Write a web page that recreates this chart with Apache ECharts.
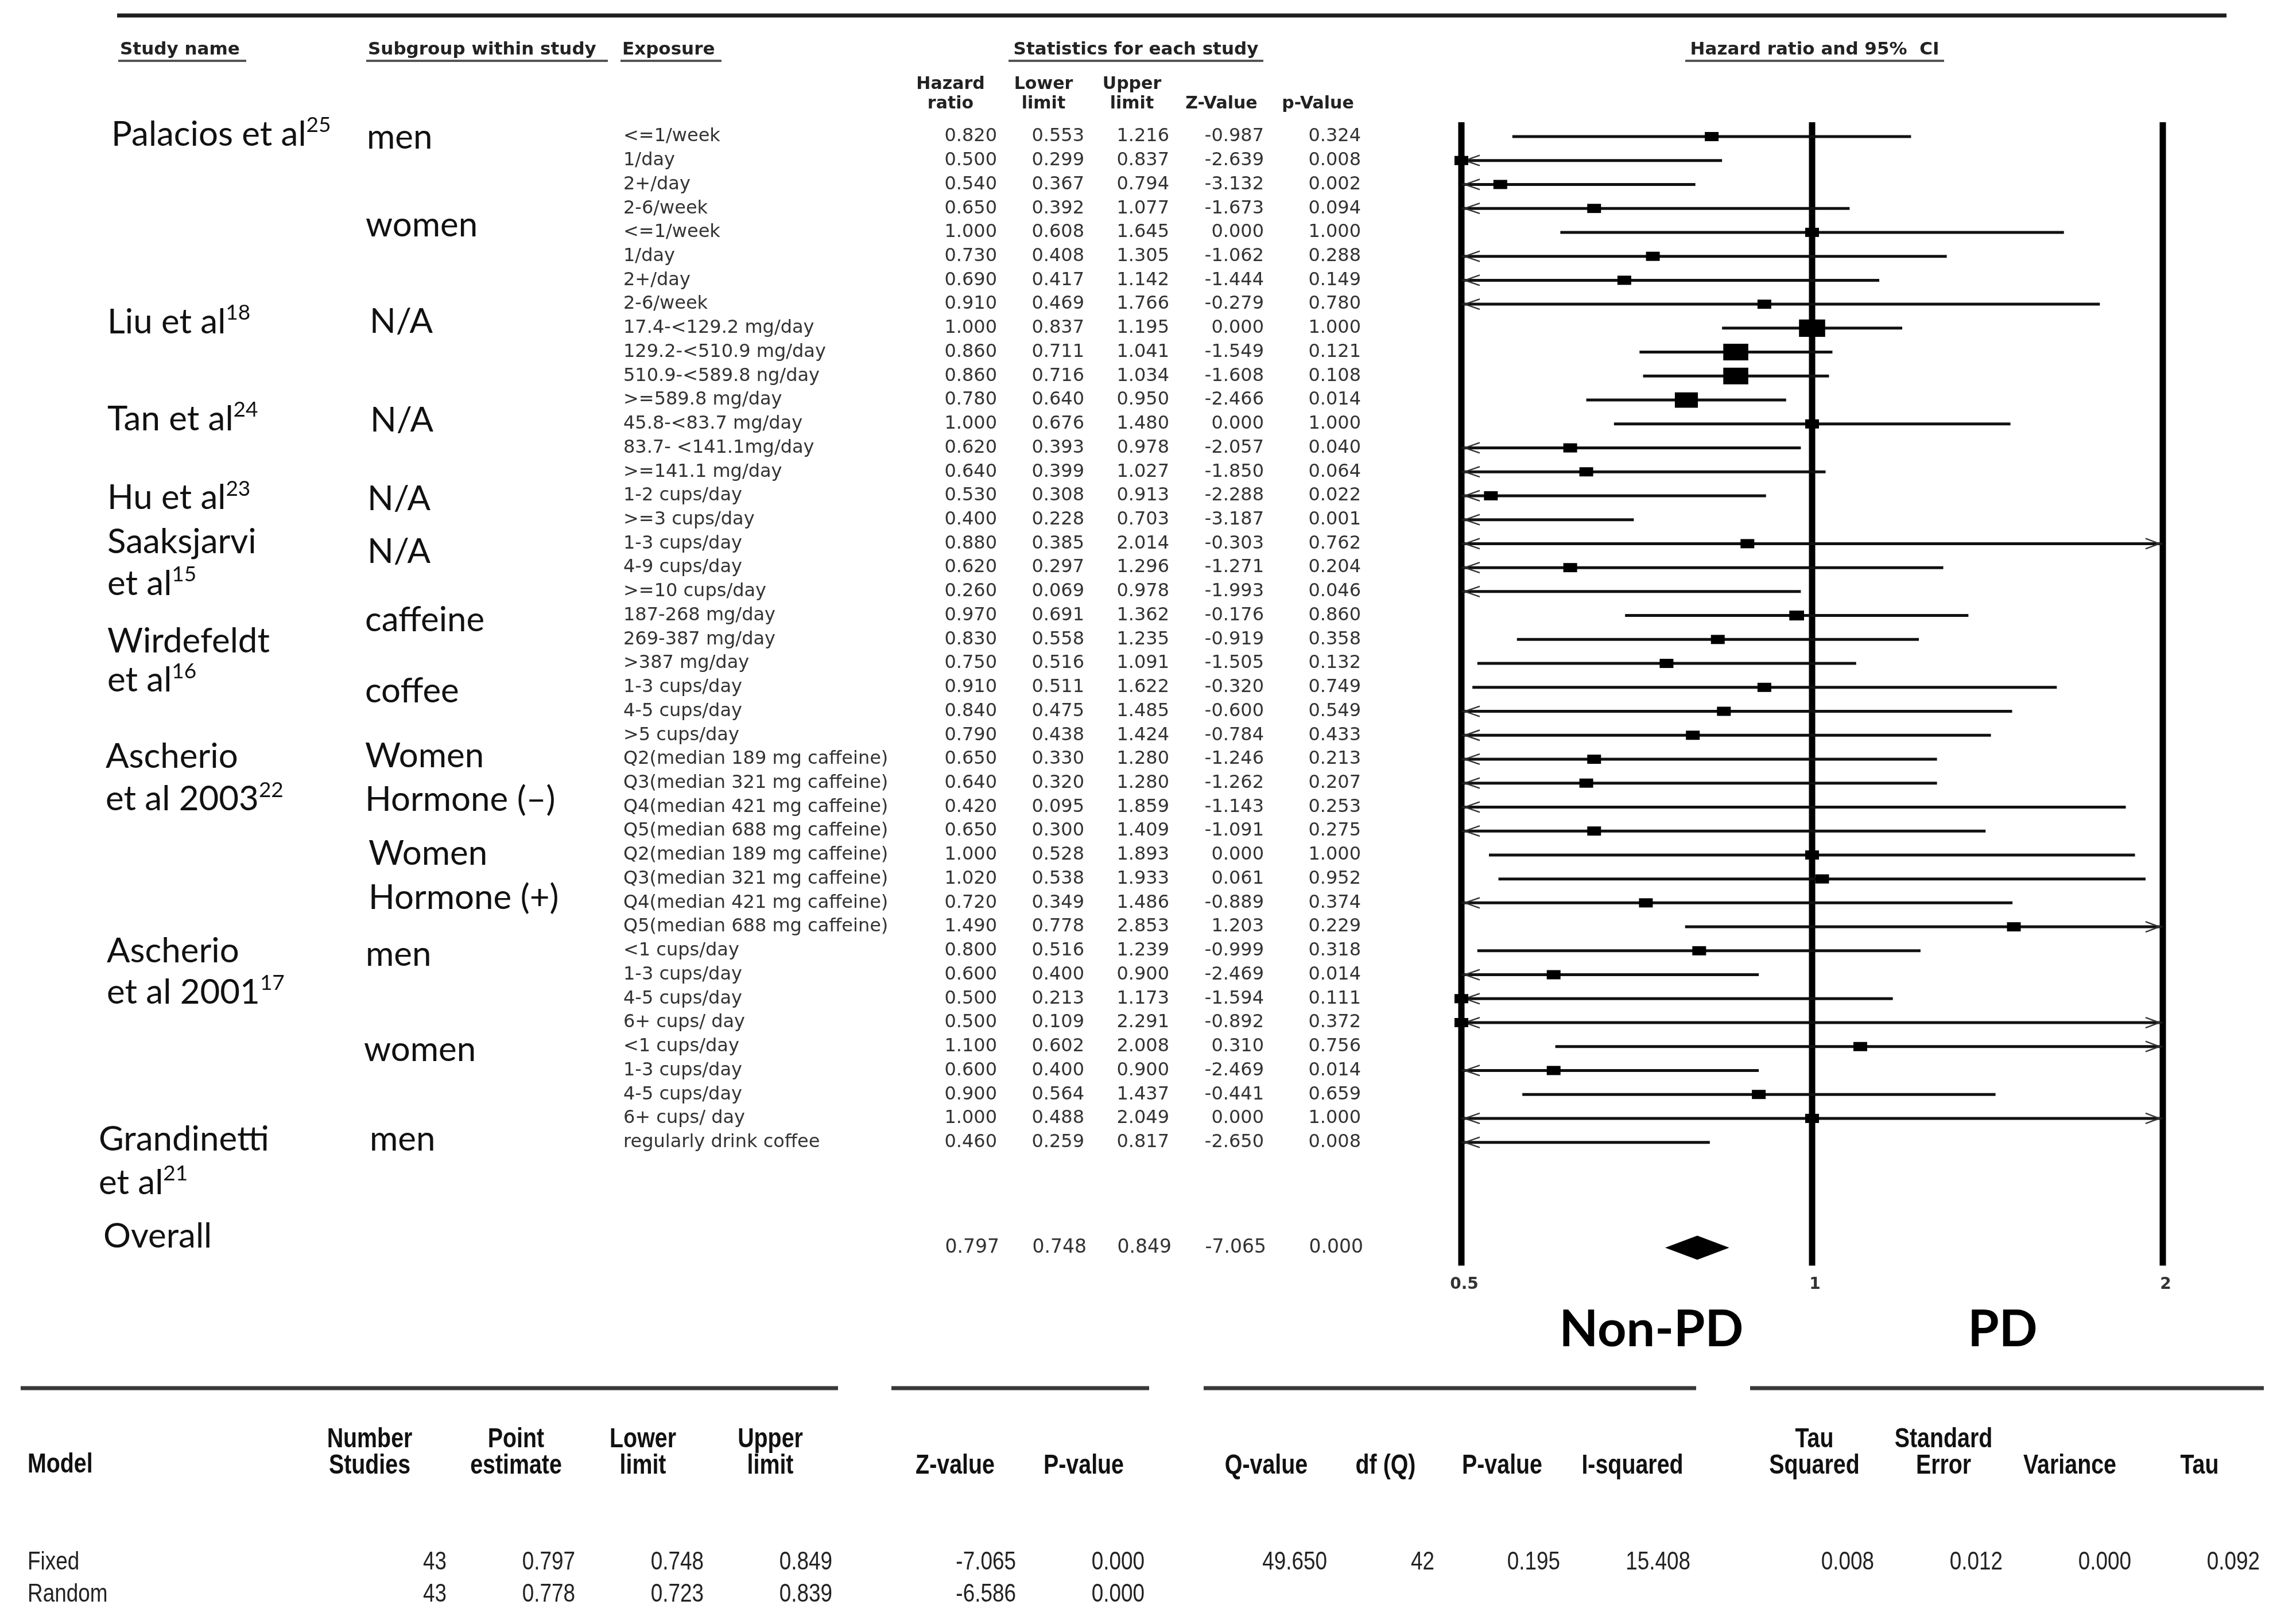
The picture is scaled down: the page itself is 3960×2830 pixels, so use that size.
<!DOCTYPE html>
<html><head><meta charset="utf-8">
<script src="https://cdn.jsdelivr.net/npm/echarts@6/dist/echarts.min.js"></script>
<style>html,body{margin:0;padding:0;background:#fff}#c{width:3960px;height:2830px}</style>
</head><body><div id="c"></div>
<script>
// ---------------- DATA ----------------
const exposures = ['<=1/week','1/day','2+/day','2-6/week','<=1/week','1/day','2+/day','2-6/week',
  '17.4-<129.2 mg/day','129.2-<510.9 mg/day','510.9-<589.8 ng/day','>=589.8 mg/day',
  '45.8-<83.7 mg/day','83.7- <141.1mg/day','>=141.1 mg/day',
  '1-2 cups/day','>=3 cups/day',
  '1-3 cups/day','4-9 cups/day','>=10 cups/day',
  '187-268 mg/day','269-387 mg/day','>387 mg/day','1-3 cups/day','4-5 cups/day','>5 cups/day',
  'Q2(median 189 mg caffeine)','Q3(median 321 mg caffeine)','Q4(median 421 mg caffeine)','Q5(median 688 mg caffeine)',
  'Q2(median 189 mg caffeine)','Q3(median 321 mg caffeine)','Q4(median 421 mg caffeine)','Q5(median 688 mg caffeine)',
  '<1 cups/day','1-3 cups/day','4-5 cups/day','6+ cups/ day','<1 cups/day','1-3 cups/day','4-5 cups/day','6+ cups/ day',
  'regularly drink coffee'];
const hazardRatio = [0.820,0.500,0.540,0.650,1.000,0.730,0.690,0.910,1.000,0.860,0.860,0.780,1.000,0.620,0.640,0.530,0.400,0.880,0.620,0.260,0.970,0.830,0.750,0.910,0.840,0.790,0.650,0.640,0.420,0.650,1.000,1.020,0.720,1.490,0.800,0.600,0.500,0.500,1.100,0.600,0.900,1.000,0.460];
const lowerLimit = [0.553,0.299,0.367,0.392,0.608,0.408,0.417,0.469,0.837,0.711,0.716,0.640,0.676,0.393,0.399,0.308,0.228,0.385,0.297,0.069,0.691,0.558,0.516,0.511,0.475,0.438,0.330,0.320,0.095,0.300,0.528,0.538,0.349,0.778,0.516,0.400,0.213,0.109,0.602,0.400,0.564,0.488,0.259];
const upperLimit = [1.216,0.837,0.794,1.077,1.645,1.305,1.142,1.766,1.195,1.041,1.034,0.950,1.480,0.978,1.027,0.913,0.703,2.014,1.296,0.978,1.362,1.235,1.091,1.622,1.485,1.424,1.280,1.280,1.859,1.409,1.893,1.933,1.486,2.853,1.239,0.900,1.173,2.291,2.008,0.900,1.437,2.049,0.817];
const zValue = [-0.987,-2.639,-3.132,-1.673,0.000,-1.062,-1.444,-0.279,0.000,-1.549,-1.608,-2.466,0.000,-2.057,-1.850,-2.288,-3.187,-0.303,-1.271,-1.993,-0.176,-0.919,-1.505,-0.320,-0.600,-0.784,-1.246,-1.262,-1.143,-1.091,0.000,0.061,-0.889,1.203,-0.999,-2.469,-1.594,-0.892,0.310,-2.469,-0.441,0.000,-2.650];
const pValue = [0.324,0.008,0.002,0.094,1.000,0.288,0.149,0.780,1.000,0.121,0.108,0.014,1.000,0.040,0.064,0.022,0.001,0.762,0.204,0.046,0.860,0.358,0.132,0.749,0.549,0.433,0.213,0.207,0.253,0.275,1.000,0.952,0.374,0.229,0.318,0.014,0.111,0.372,0.756,0.014,0.659,1.000,0.008];
// relative box weight (box area)
const boxWeight = [1,1,1,1,1,1,1,1,3.6,3.3,3.3,2.8,1,1,1,1,1,1,1,1,1.15,1,1,1,1,1,1,1,1,1,1,1,1,1,1,1,1,1,1,1,1,1,1];
const overallStats = [0.797,0.748,0.849,-7.065,0.000];
const axisTicks = [0.5, 1, 2];

const studyNames = ['Palacios et al','Liu et al','Tan et al','Hu et al','Saaksjarvi','et al','Wirdefeldt','et al','Ascherio','et al 2003','Ascherio','et al 2001','Grandinetti','et al','Overall'];
const studyRefs  = ['25','18','24','23','','15','','16','','22','','17','','21',''];
const subgroupNames = ['men','women','N/A','N/A','N/A','N/A','caffeine','coffee','Women','Hormone (\u2013)','Women','Hormone (+)','men','women','men'];

const modelNames = ['Fixed','Random'];
const modelStudies = [43,43];
const modelPoint = [0.797,0.778];
const modelLower = [0.748,0.723];
const modelUpper = [0.849,0.839];
const modelZ = [-7.065,-6.586];
const modelP = [0.000,0.000];
const hetQ = [49.650], hetDf = [42], hetP = [0.195], hetI2 = [15.408];
const tauSquared = [0.008], tauSE = [0.012], tauVariance = [0.000], tauValue = [0.092];

// ---------------- LAYOUT ----------------
const ROW0 = 238, ROWH = 41.73;
const PLOT_L = 2546, PLOT_R = 3768;
const OVERALL_ROW = 46.4;
const studyLabelRow = [-0.08,7.76,11.81,15.1,16.94,18.69,21.09,22.72,25.9,27.68,34.03,35.75,41.89,43.71,45.94];
const studyLabelX   = [194,187,187,187,187,187,187,187,184,184,186,186,172,172,180];
const subgroupRow = [0.05,3.71,7.74,11.86,15.14,17.35,20.2,23.17,25.88,27.7,29.95,31.78,34.17,38.13,41.89];
const subgroupX   = [639,637,644,645,640,640,636,636,636,636,642,642,637,634,644];
const EXPO_X = 1086;
const COL_RIGHT = [1737,1889,2037,2202,2371];
const NUM_FONT = 'DejaVu Sans';
const NAME_FONT = 'Lato';
const ARIAL = "'Liberation Sans',Arial,sans-serif";

const fmt3 = v => v.toFixed(3);

function txt(x, y, text, o, sx) {
  const el = {type:'text', x:x, y:y, silent:true,
    style: Object.assign({text:text, fill:'#1a1a1a', fontSize:32, fontFamily:NUM_FONT, align:'left', verticalAlign:'middle'}, o||{})};
  if (sx) el.scaleX = sx;
  return el;
}
function hline(x1, x2, y, w, c) {
  return {type:'line', silent:true, shape:{x1:x1,y1:y,x2:x2,y2:y}, style:{stroke:c||'#222', lineWidth:w}};
}

function renderRef(params, api) {
  const v = axisTicks[params.dataIndex];
  const x = api.coord([v, 0])[0];
  const y1 = api.coord([v, -0.6])[1];
  const y2 = api.coord([v, 47.15])[1];
  const yl = api.coord([v, 47.95])[1];
  return {type:'group', children:[
    {type:'line', shape:{x1:x, y1:y1, x2:x, y2:y2}, style:{stroke:'#000', lineWidth:11}},
    {type:'text', x:x+5, y:yl, style:{text:String(v), fill:'#333', fontSize:28, fontWeight:'bold', fontFamily:NUM_FONT, align:'center', verticalAlign:'middle'}}
  ]};
}

function renderForest(params, api) {
  const i = params.dataIndex;
  const y = api.coord([1, i])[1];
  const hr = hazardRatio[i], lo = lowerLimit[i], up = upperLimit[i];
  const xmin = axisTicks[0], xmax = axisTicks[axisTicks.length - 1];
  const xl = api.coord([Math.max(lo, xmin), i])[0];
  const xu = api.coord([Math.min(up, xmax), i])[0];
  const ch = [{type:'line', shape:{x1:xl, y1:y, x2:xu, y2:y}, style:{stroke:'#111', lineWidth:5}}];
  if (lo < xmin) ch.push({type:'polyline', shape:{points:[[xl+32,y-9],[xl+6,y],[xl+32,y+9]]}, style:{stroke:'#333', lineWidth:2.4, fill:'none'}});
  if (up > xmax) ch.push({type:'polyline', shape:{points:[[xu-30,y-9],[xu-6,y],[xu-30,y+9]]}, style:{stroke:'#333', lineWidth:2.4, fill:'none'}});
  if (hr >= xmin && hr <= xmax) {
    const xc = api.coord([hr, i])[0];
    const s = Math.sqrt(boxWeight[i]);
    const w = 24*s, h = 16*s;
    ch.push({type:'rect', shape:{x:xc-w/2, y:y-h/2, width:w, height:h}, style:{fill:'#000'}});
  }
  return {type:'group', children:ch};
}

function renderDiamond(params, api) {
  const y = api.coord([1, OVERALL_ROW])[1];
  const xc = api.coord([overallStats[0], OVERALL_ROW])[0];
  const xl = api.coord([overallStats[1], OVERALL_ROW])[0];
  const xu = api.coord([overallStats[2], OVERALL_ROW])[0];
  return {type:'polygon', shape:{points:[[xl,y],[xc,y-21],[xu,y],[xc,y+21]]}, style:{fill:'#000'}};
}

function renderTableRow(params, api) {
  const i = params.dataIndex;
  const y = api.coord([1, i])[1];
  const vals = [fmt3(hazardRatio[i]), fmt3(lowerLimit[i]), fmt3(upperLimit[i]), fmt3(zValue[i]), fmt3(pValue[i])];
  const ch = [txt(EXPO_X, y, exposures[i], {fill:'#333'})];
  vals.forEach((v, k) => ch.push(txt(COL_RIGHT[k], y, v, {align:'right', fill:'#333'})));
  return {type:'group', children:ch};
}

function renderOverallRow(params, api) {
  const y = api.coord([1, OVERALL_ROW])[1];
  const ch = [];
  overallStats.forEach((v, k) => ch.push(txt(COL_RIGHT[k] + 4, y, fmt3(v), {align:'right', fill:'#333', fontSize:33})));
  return {type:'group', children:ch};
}

const nameRich = {
  n: {fontSize:60, fontFamily:NAME_FONT, fill:'#111', lineHeight:70},
  s: {fontSize:37, fontFamily:NAME_FONT, fill:'#111', lineHeight:38, verticalAlign:'top'}
};
function renderStudy(params, api) {
  const i = params.dataIndex;
  const y = api.coord([1, studyLabelRow[i]])[1];
  const t = '{n|' + studyNames[i] + '}' + (studyRefs[i] ? '{s|' + studyRefs[i] + '}' : '');
  return {type:'text', x:studyLabelX[i], y:y, style:{text:t, rich:nameRich, fontSize:60, fontFamily:NAME_FONT, fill:'#111', align:'left', verticalAlign:'middle'}};
}
function renderSubgroup(params, api) {
  const i = params.dataIndex;
  const y = api.coord([1, subgroupRow[i]])[1];
  return {type:'text', x:subgroupX[i], y:y, style:{text:subgroupNames[i], fontSize:60, fontFamily:NAME_FONT, fill:'#111', align:'left', verticalAlign:'middle'}};
}

// ---------------- GRAPHIC (headers & summary table) ----------------
const g = [];
g.push(hline(204, 3879, 27, 7, '#1e1e1e'));
const HB = {fontSize:31, fontWeight:'bold', fontFamily:NUM_FONT, fill:'#222'};
const headTop = [
  ['Study name', 209, 429], ['Subgroup within study', 641, 1059], ['Exposure', 1084, 1257],
  ['Statistics for each study', 1774, 2201, 1757], ['Hazard ratio and 95%  CI', 2940, 3387, 2936]
];
headTop.forEach(h => {
  const ul = h[3] !== undefined ? h[3] : h[1] - 3;
  if (h[3] !== undefined) g.push(txt((ul + h[2]) / 2, 87, h[0], Object.assign({}, HB, {align:'center'})));
  else g.push(txt(h[1], 87, h[0], HB));
  g.push(hline(ul, h[2], 106, 4, '#555'));
});
const colHeads = [[['Hazard','ratio'],1656],[['Lower','limit'],1818],[['Upper','limit'],1972],[['Z-Value'],2128],[['p-Value'],2296]];
colHeads.forEach(c => {
  const lines = c[0];
  lines.forEach((l, k) => {
    const y = lines.length === 2 ? (k === 0 ? 147 : 181) : 181;
    g.push(txt(c[1], y, l, Object.assign({}, HB, {fontSize:30, align:'center'})));
  });
});
// Non-PD / PD
g.push(txt(2877, 2318, 'Non-PD', {fontSize:88, fontWeight:'bold', fontFamily:NAME_FONT, fill:'#000', align:'center'}));
g.push(txt(3489, 2318, 'PD', {fontSize:88, fontWeight:'bold', fontFamily:NAME_FONT, fill:'#000', align:'center'}));

// bottom summary table
[[36,1460],[1553,2002],[2097,2955],[3049,3944]].forEach(s => g.push(hline(s[0], s[1], 2419, 7, '#383838')));
const NSX = 0.82; // narrow (condensed) rendering of Arial-like face
const BH = {fontSize:48, fontWeight:'bold', fontFamily:ARIAL, fill:'#111'};
const BV = {fontSize:45, fontFamily:ARIAL, fill:'#222'};
g.push(txt(48, 2553, 'Model', BH, NSX));
const bottomCols = [
  {head:['Number','Studies'], cx:644, right:778, vals:modelStudies, f:v=>String(v)},
  {head:['Point','estimate'], cx:899, right:1002, vals:modelPoint, f:fmt3},
  {head:['Lower','limit'], cx:1120, right:1226, vals:modelLower, f:fmt3},
  {head:['Upper','limit'], cx:1342, right:1450, vals:modelUpper, f:fmt3},
  {head:['Z-value'], cx:1664, right:1770, vals:modelZ, f:fmt3},
  {head:['P-value'], cx:1888, right:1994, vals:modelP, f:fmt3},
  {head:['Q-value'], cx:2206, right:2312, vals:hetQ, f:fmt3},
  {head:['df (Q)'], cx:2414, right:2499, vals:hetDf, f:v=>String(v)},
  {head:['P-value'], cx:2617, right:2718, vals:hetP, f:fmt3},
  {head:['I-squared'], cx:2844, right:2945, vals:hetI2, f:fmt3},
  {head:['Tau','Squared'], cx:3161, right:3265, vals:tauSquared, f:fmt3},
  {head:['Standard','Error'], cx:3386, right:3489, vals:tauSE, f:fmt3},
  {head:['Variance'], cx:3606, right:3713, vals:tauVariance, f:fmt3},
  {head:['Tau'], cx:3832, right:3937, vals:tauValue, f:fmt3}
];
const ROWY = [2723, 2779];
bottomCols.forEach(c => {
  c.head.forEach((h, k) => {
    const y = c.head.length === 2 ? (k === 0 ? 2509 : 2555) : 2555;
    g.push(txt(c.cx, y, h, Object.assign({}, BH, {align:'center'}), NSX));
  });
  c.vals.forEach((v, r) => g.push(txt(c.right, ROWY[r], c.f(v), Object.assign({}, BV, {align:'right'}), NSX)));
});
modelNames.forEach((m, r) => g.push(txt(48, ROWY[r], m, BV, NSX)));

// ---------------- CHART ----------------
const chart = echarts.init(document.getElementById('c'), null, {width:3960, height:2830, renderer:'canvas'});
chart.setOption({
  backgroundColor:'#ffffff',
  animation:false,
  grid:[{left:PLOT_L, width:PLOT_R-PLOT_L, top:ROW0-ROWH, height:49*ROWH, show:false}],
  xAxis:[{type:'log', logBase:2, min:axisTicks[0], max:axisTicks[axisTicks.length-1], show:false}],
  yAxis:[{type:'value', inverse:true, min:-1, max:48, show:false}],
  series:[
    {type:'custom', name:'reference lines', data:axisTicks.map(v=>[v,0]), encode:{x:0,y:1}, renderItem:renderRef, clip:false, z:1, silent:true},
    {type:'custom', name:'studies', data:hazardRatio.map((v,i)=>[v,i]), encode:{x:0,y:1}, renderItem:renderForest, clip:false, z:2, silent:true},
    {type:'custom', name:'overall', data:[[overallStats[0], OVERALL_ROW]], encode:{x:0,y:1}, renderItem:renderDiamond, clip:false, z:2, silent:true},
    {type:'custom', name:'table', data:exposures.map((e,i)=>[1,i]), encode:{x:0,y:1}, renderItem:renderTableRow, clip:false, z:3, silent:true},
    {type:'custom', name:'overall row', data:[[1, OVERALL_ROW]], encode:{x:0,y:1}, renderItem:renderOverallRow, clip:false, z:3, silent:true},
    {type:'custom', name:'study names', data:studyNames.map((n,i)=>[1, studyLabelRow[i]]), encode:{x:0,y:1}, renderItem:renderStudy, clip:false, z:3, silent:true},
    {type:'custom', name:'subgroups', data:subgroupNames.map((n,i)=>[1, subgroupRow[i]]), encode:{x:0,y:1}, renderItem:renderSubgroup, clip:false, z:3, silent:true}
  ],
  graphic:g
});
</script>
</body></html>
